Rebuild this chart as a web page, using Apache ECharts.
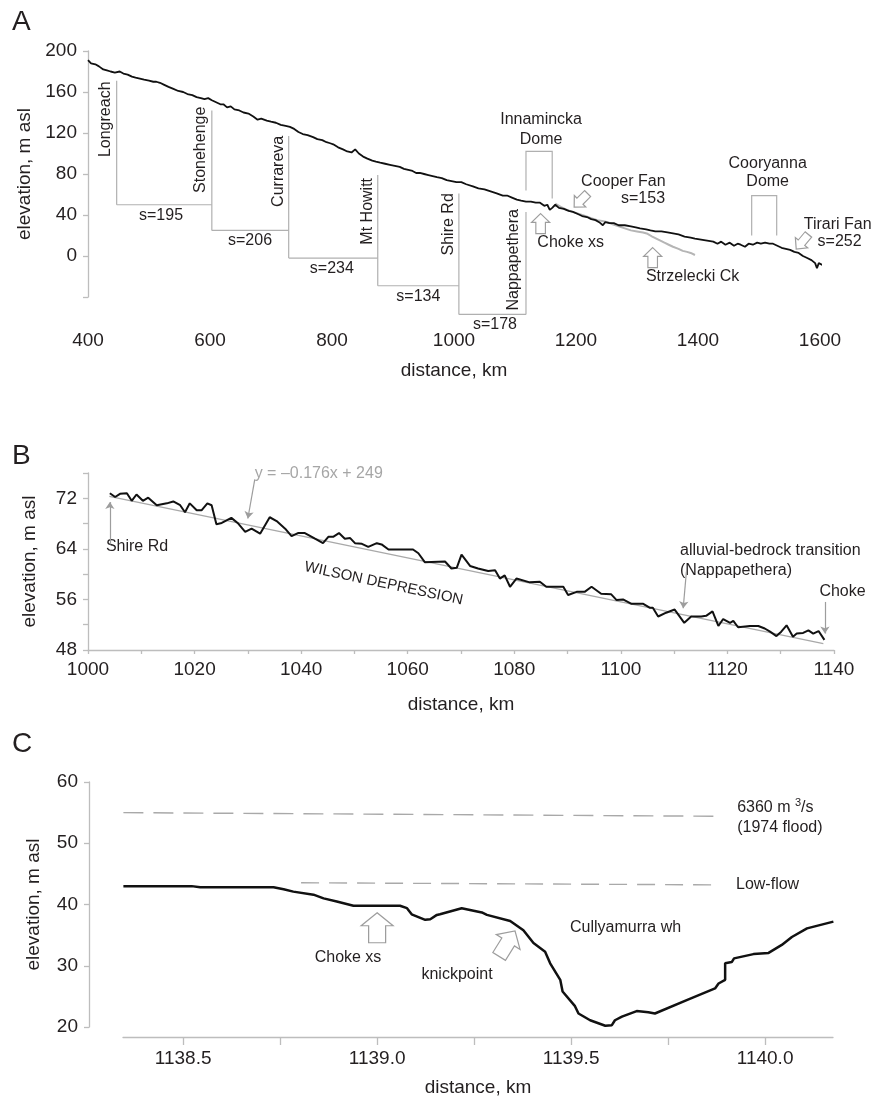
<!DOCTYPE html>
<html>
<head>
<meta charset="utf-8">
<title>Cooper Creek long profile</title>
<script src="https://cdn.jsdelivr.net/npm/echarts@6/dist/echarts.min.js"></script>
<style>
  html, body { margin: 0; padding: 0; background: #fff; }
  #chart { width: 874px; height: 1100px; }
</style>
</head>
<body>
<div id="chart"></div>
<script>
// ---------- panel A : long profile, Longreach to Tirari Fan ----------
const profileA = [
  [400,191],[405,188],[412,187],[418,185],[425,182],[431,181],[437,180],[444,179],[452,180],[458,178],
  [465,177],[472,175],[478,174],[485,173],[492,172],[500,171],[507,170],[512,170],[518,169],[525,167],
  [532,165],[540,163],[548,161],[556,160],[563,158],[571,157],[578,155],[585,154],[591,153],[597,154],
  [603,152],[610,150],[617,148],[622,148],[628,145],[634,146],[640,143],[648,142],[655,140],[663,139],
  [671,136],[678,133],[684,134],[693,132],[700,131],[708,130],[716,128],[724,127],[731,126],[738,124],
  [745,121],[752,119],[760,118],[769,116],[776,114],[784,113],[791,111],[797,110],[802,109],[810,106],
  [818,104],[825,102],[832,101],[838,104],[844,100],[851,97],[858,95],[866,93],[872,92],[879,91],
  [887,90],[895,89],[903,88],[911,87],[918,85],[925,84],[932,83],[938,81],[944,81],[951,80],
  [958,79],[965,78],[972,77],[980,76],[988,74],[996,73],[1004,72],[1012,72],[1020,70],[1031,68],
  [1040,66],[1050,65],[1060,63],[1070,61],[1080,59],[1087,59],[1095,57],[1103,55],[1110,54],[1118,53],
  [1126,53],[1134,52],[1141,52],[1148,49],[1153,50],[1157,45],[1161,47],[1166,50],[1172,47],[1180,46],
  [1188,44],[1195,43],[1203,41],[1210,39],[1218,38],[1225,36],[1232,35],[1238,33],[1244,30],[1248,33],
  [1255,32],[1262,32],[1270,30],[1280,30],[1290,29],[1298,28],[1305,27],[1315,26],[1322,25],[1330,24],
  [1340,24],[1350,23],[1359,22],[1368,21],[1378,19],[1388,18],[1395,17],[1405,16],[1415,15],[1425,14],
  [1432,12],[1438,14],[1445,11],[1452,13],[1459,10],[1465,12],[1470,11],[1477,9],[1483,12],[1490,11],
  [1497,13],[1503,12],[1510,13],[1517,12],[1523,12],[1530,10],[1537,8],[1544,7],[1551,6],[1558,4],
  [1565,3],[1572,0],[1579,-2],[1586,-4],[1592,-7],[1595,-12],[1598,-7],[1605,-9],[1612,-12],[1620,-14]
];
const strzeleckiCk = [
  [1166,51],[1175,48],[1185,45],[1195,43],[1205,41],[1215,39],[1225,37],[1235,35],[1245,34],[1252,33],
  [1260,31],[1270,29],[1280,27],[1290,25],[1300,24],[1310,23],[1316,22],[1325,19],[1335,16],[1345,13],
  [1352,11],[1359,9],[1368,7],[1375,5],[1382,4],[1388,3],[1395,1]
];
const stationNames = ['Longreach', 'Stonehenge', 'Currareva', 'Mt Howitt', 'Shire Rd', 'Nappapethera'];
const stationKm = [447, 603, 729, 875, 1008, 1118];
const stationTop = [171, 142, 117, 79, 61, 43];
const stepLevel = [50, 25, -2, -29, -57];
const stepLabels = ['s=195', 's=206', 's=234', 's=134', 's=178'];
const innaminckaDome = [[1118, 64], [1118, 102], [1161, 102], [1161, 56]];
const cooryannaDome = [[1488, 20], [1488, 59], [1529, 59], [1529, 20]];

// ---------- panel B : Shire Rd to Choke ----------
const profileB = [
  [1004.1,72.8],[1005.1,72.2],[1006,72.7],[1007.3,72.8],[1008.2,71.6],[1009.1,72.6],[1010.3,71.6],[1011.3,72.1],
  [1012.9,70.9],[1014.8,71.2],[1016,71.5],[1017.3,70.9],[1018.2,69.8],[1019.1,71.2],[1020.4,70.1],[1021.3,70.1],
  [1022.4,71.2],[1023.2,70.9],[1024.1,67.9],[1025.1,68.1],[1026.9,68.9],[1028.2,68.0],[1029.5,66.7],[1030.7,67.2],
  [1032.3,66.4],[1034.1,69.0],[1035.4,68.4],[1037,67.2],[1038.2,66.0],[1039.4,66.5],[1040.7,66.5],[1042.6,65.6],
  [1044.1,64.9],[1045.1,65.9],[1046,65.9],[1047.1,66.5],[1048.2,65.6],[1049.2,65.7],[1050.1,64.9],[1051.4,64.8],
  [1052.6,64.3],[1054.2,64.9],[1055.1,64.7],[1056.4,63.9],[1061,63.9],[1062,63.3],[1063.2,61.9],[1067,62.0],
  [1068.2,60.9],[1069.2,61.0],[1070.1,63.1],[1071.7,61.3],[1073.2,60.9],[1075.1,60.5],[1076.4,60.6],[1077.3,59.3],
  [1078.2,59.8],[1079.2,58.0],[1080.4,59.3],[1082.9,58.7],[1084.8,58.8],[1086,58.0],[1089.2,58.0],[1090.1,56.7],
  [1091.7,57.2],[1093.2,57.2],[1094.5,58.0],[1096.3,56.9],[1098.2,56.8],[1099.2,55.9],[1100.4,56.0],[1102,55.3],
  [1104.2,55.3],[1105.4,54.7],[1106,54.7],[1107,53.3],[1108.5,53.9],[1110.1,54.4],[1111.9,52.3],[1113.2,53.3],
  [1115.1,53.3],[1116,53.4],[1117.2,54.1],[1118.3,51.8],[1119.2,52.9],[1120.5,52.3],[1121.1,52.6],[1122,51.6],
  [1124.2,51.8],[1125.8,51.8],[1127,51.4],[1128,50.9],[1129.2,50.2],[1130.1,50.9],[1131.1,51.9],[1132.3,50.1],
  [1133,50.6],[1134.2,50.7],[1135.2,51.1],[1136.1,50.6],[1137.1,51.0],[1138.2,49.6]
];
// regression y = -0.176x + 249, end points
const trendB = [[1004, 72.3], [1138, 49.0]];

// ---------- panel C : Choke cross-section ----------
const profileC = [
  [1138.346,43.0],[1138.522,43.0],[1138.544,42.8],[1138.733,42.8],[1138.759,42.5],[1138.784,42.1],[1138.836,41.6],
  [1138.862,41.0],[1138.896,40.5],[1138.939,39.8],[1139.059,39.8],[1139.077,39.4],[1139.089,38.4],[1139.124,37.5],
  [1139.137,37.6],[1139.154,38.3],[1139.162,38.4],[1139.218,39.4],[1139.270,38.7],[1139.283,38.3],[1139.343,37.3],
  [1139.377,35.8],[1139.403,33.7],[1139.433,32.3],[1139.446,30.4],[1139.472,27.7],[1139.478,25.8],[1139.510,23.4],
  [1139.519,22.2],[1139.549,21.1],[1139.588,20.2],[1139.605,20.3],[1139.613,21.1],[1139.631,21.7],[1139.669,22.6],
  [1139.699,22.4],[1139.716,22.2],[1139.798,24.4],[1139.871,26.3],[1139.880,27.1],[1139.897,27.7],[1139.897,30.4],
  [1139.914,30.6],[1139.920,31.2],[1139.970,31.9],[1140.009,32.1],[1140.043,33.4],[1140.069,34.7],[1140.108,36.1],
  [1140.176,37.2]
];
const floodLevel = [[1138.346, 55.0], [1139.884, 54.4]];
const lowFlowLevel = [[1138.804, 43.55], [1139.884, 43.2]];
const ticksC = [1138.5, 1138.75, 1139.0, 1139.25, 1139.5, 1139.75, 1140.0];
const labelsC = [1138.5, 1139.0, 1139.5, 1140.0];

const FONT = '"Liberation Sans", Arial, Helvetica, sans-serif';
const INK = '#231f20';
const AXIS_GREY = '#bdbdbd';
const NOTE_GREY = '#b0b0b0';
const ARROW_GREY = '#9d9d9d';
const BLOCK_ARROW = 'path://M16,0 L32,13 L24.5,13 L24.5,30 L7.5,30 L7.5,13 L0,13 Z';

const chart = echarts.init(document.getElementById('chart'))

const axis = (gridIndex, opts) => {
  const base = {
    type: 'value',
    gridIndex,
    nameLocation: 'middle',
    nameTextStyle: { fontFamily: FONT, fontSize: 19, color: INK },
    splitLine: { show: false },
    axisLine: { show: true, lineStyle: { color: AXIS_GREY, width: 1.3 } },
    axisTick: { show: true, length: 5, lineStyle: { color: AXIS_GREY, width: 1.3 } },
    axisLabel: { fontFamily: FONT, fontSize: 19, color: INK, margin: 11 }
  }
  return {
    ...base,
    ...opts,
    axisLine: { ...base.axisLine, ...(opts.axisLine || {}) },
    axisTick: { ...base.axisTick, ...(opts.axisTick || {}) },
    axisLabel: { ...base.axisLabel, ...(opts.axisLabel || {}) }
  }
}

// bracket lines of panel A: one vertical per station, one horizontal per reach
const bracketLines = []
stationKm.forEach((km, i) => {
  const below = [stepLevel[i - 1], stepLevel[i]].filter(v => v !== undefined)
  bracketLines.push({ coords: [[km, stationTop[i]], [km, Math.min(...below)]] })
})
stepLevel.forEach((lv, i) => {
  bracketLines.push({ coords: [[stationKm[i], lv], [stationKm[i + 1], lv]] })
})
bracketLines.push({ coords: innaminckaDome })
bracketLines.push({ coords: cooryannaDome })

const hollowArrow = (coord, size, rotate) => ({
  coord,
  symbol: BLOCK_ARROW,
  symbolSize: size,
  symbolRotate: rotate,
  itemStyle: { color: 'rgba(0,0,0,0)', borderColor: ARROW_GREY, borderWidth: 1.2 }
})

const thinArrow = (from, to) => [{ coord: from }, { coord: to }]

const option = {
  animation: false,
  backgroundColor: '#fff',
  grid: [
    { left: 88, right: 54, top: 51, height: 246 },
    { left: 88, right: 40, top: 473, height: 177 },
    { left: 123, right: 41, top: 782, height: 245 }
  ],
  xAxis: [
    axis(0, {
      min: 400, max: 1600, interval: 200,
      name: 'distance, km', nameGap: 64,
      axisLine: { show: false }, axisTick: { show: false },
      axisLabel: { margin: 34, formatter: v => String(v) }
    }),
    axis(1, {
      min: 1000, max: 1140, interval: 10,
      name: 'distance, km', nameGap: 45,
      axisTick: { length: 4 },
      axisLabel: { margin: 10, interval: 0, formatter: v => (v % 20 === 0 ? String(v) : '') }
    }),
    axis(2, {
      min: 1138.345, max: 1140.175, offset: 10,
      name: 'distance, km', nameGap: 41,
      axisTick: { length: 8, customValues: ticksC },
      axisLabel: { margin: 12, customValues: labelsC, formatter: v => v.toFixed(1) }
    })
  ],
  yAxis: [
    axis(0, {
      min: -40, max: 200, interval: 40,
      name: 'elevation, m asl', nameGap: 51,
      axisLabel: { formatter: v => (v < 0 ? '' : String(v)) }
    }),
    axis(1, {
      min: 48, max: 76, interval: 4,
      name: 'elevation, m asl', nameGap: 49,
      axisLabel: { formatter: v => ((v - 48) % 8 === 0 ? String(v) : '') }
    }),
    axis(2, {
      min: 20, max: 60, interval: 10, offset: 34,
      name: 'elevation, m asl', nameGap: 46
    })
  ],
  series: [
    {
      type: 'lines',
      coordinateSystem: 'cartesian2d',
      xAxisIndex: 0, yAxisIndex: 0,
      polyline: true,
      clip: false,
      silent: true,
      lineStyle: { color: NOTE_GREY, width: 1.2, opacity: 1 },
      data: bracketLines
    },
    {
      type: 'line',
      xAxisIndex: 0, yAxisIndex: 0,
      data: strzeleckiCk,
      showSymbol: false,
      lineStyle: { color: '#b5b5b5', width: 2 }
    },
    {
      type: 'line',
      xAxisIndex: 0, yAxisIndex: 0,
      data: profileA,
      showSymbol: false,
      clip: false,
      lineStyle: { color: '#111', width: 1.8 },
      markPoint: {
        silent: true,
        label: { show: false },
        data: [
          hollowArrow([1208, 54.3], [16, 19], 135),
          hollowArrow([1142, 31.6], [18, 20], 0),
          hollowArrow([1325.7, -1.6], [18, 20], 0),
          hollowArrow([1571, 13.9], [16, 19], 140)
        ]
      }
    },
    {
      type: 'line',
      xAxisIndex: 1, yAxisIndex: 1,
      data: trendB,
      showSymbol: false,
      lineStyle: { color: '#a9a9a9', width: 1.4 }
    },
    {
      type: 'line',
      xAxisIndex: 1, yAxisIndex: 1,
      data: profileB,
      showSymbol: false,
      lineStyle: { color: '#111', width: 2 },
      markLine: {
        silent: true,
        symbol: ['none', 'arrow'],
        symbolSize: 7,
        label: { show: false },
        lineStyle: { color: ARROW_GREY, width: 1.2, type: 'solid' },
        data: [
          thinArrow([1031.3, 75.0], [1030, 68.8]),
          thinArrow([1004.1, 64.7], [1004.1, 71.4]),
          thinArrow([1112.3, 60.4], [1111.7, 54.6]),
          thinArrow([1138.3, 55.6], [1138.3, 50.6])
        ]
      }
    },
    {
      type: 'line',
      xAxisIndex: 2, yAxisIndex: 2,
      data: floodLevel,
      showSymbol: false,
      lineStyle: { color: '#a9a9a9', width: 1.4, type: [20, 10] }
    },
    {
      type: 'line',
      xAxisIndex: 2, yAxisIndex: 2,
      data: lowFlowLevel,
      showSymbol: false,
      lineStyle: { color: '#a9a9a9', width: 1.4, type: [18, 10] }
    },
    {
      type: 'line',
      xAxisIndex: 2, yAxisIndex: 2,
      data: profileC,
      showSymbol: false,
      lineStyle: { color: '#111', width: 2.5 },
      markPoint: {
        silent: true,
        label: { show: false },
        data: [
          hollowArrow([1139.0, 36.2], [32, 30], 0),
          hollowArrow([1139.335, 33.6], [28, 30], -32)
        ]
      }
    }
  ]
}

chart.setOption(option)

// text notes, placed in data units of each panel
const notes = [
  ...stationNames.map((text, i) => ({
    grid: 0, text, rotate: Math.PI / 2,
    x: [428.7, 584.4, 712.3, 859, 991.8, 1098.4][i],
    y: [133.4, 103.6, 82.6, 43.6, 30.9, -3.7][i]
  })),
  ...stepLabels.map((text, i) => ({
    grid: 0, text,
    x: [519.7, 665.6, 799.8, 941.5, 1067.2][i],
    y: [39, 15.3, -12.3, -39.3, -67][i]
  })),
  { grid: 0, text: 'Innamincka', x: 1142.8, y: 133.1 },
  { grid: 0, text: 'Dome', x: 1142.8, y: 113.8 },
  { grid: 0, text: 'Cooper Fan', x: 1277.6, y: 72.2 },
  { grid: 0, text: 's=153', x: 1346, y: 56, align: 'right' },
  { grid: 0, text: 'Choke xs', x: 1191.3, y: 12.7 },
  { grid: 0, text: 'Strzelecki Ck', x: 1391.1, y: -20.5 },
  { grid: 0, text: 'Cooryanna', x: 1514.2, y: 90.1 },
  { grid: 0, text: 'Dome', x: 1514.2, y: 72.2 },
  { grid: 0, text: 'Tirari Fan', x: 1684.7, y: 30.6, align: 'right' },
  { grid: 0, text: 's=252', x: 1668.3, y: 13.7, align: 'right' },

  { grid: 1, text: 'y = \u20130.176x + 249', x: 1043.3, y: 75.9, color: '#a6a6a6' },
  { grid: 1, text: 'Shire Rd', x: 1009.2, y: 64.3 },
  { grid: 1, text: 'WILSON DEPRESSION', x: 1055.5, y: 58.5, rotate: -0.21, size: 15 },
  { grid: 1, text: 'alluvial-bedrock transition', x: 1111.1, y: 63.8, align: 'left' },
  { grid: 1, text: '(Nappapethera)', x: 1111.1, y: 60.6, align: 'left' },
  { grid: 1, text: 'Choke', x: 1141.6, y: 57.3 },

  {
    grid: 2, text: '{n|6360 m }{s|3}{n|/s}', x: 1139.928, y: 55.9, align: 'left',
    rich: {
      n: { fontFamily: FONT, fontSize: 16, fill: INK, color: INK, lineHeight: 20 },
      s: { fontFamily: FONT, fontSize: 11, fill: INK, color: INK, lineHeight: 12, verticalAlign: 'top' }
    }
  },
  { grid: 2, text: '(1974 flood)', x: 1139.928, y: 52.5, align: 'left' },
  { grid: 2, text: 'Low-flow', x: 1139.925, y: 43.3, align: 'left' },
  { grid: 2, text: 'Cullyamurra wh', x: 1139.497, y: 36.3, align: 'left' },
  { grid: 2, text: 'Choke xs', x: 1138.925, y: 31.3 },
  { grid: 2, text: 'knickpoint', x: 1139.206, y: 28.5 }
]

const noteElement = (n) => {
  const [px, py] = chart.convertToPixel({ gridIndex: n.grid }, [n.x, n.y])
  const align = n.align || 'center'
  return {
    type: 'text',
    x: px,
    y: py,
    rotation: n.rotate || 0,
    silent: true,
    style: {
      text: n.text,
      fill: n.color || INK,
      font: `${n.size || 16}px ${FONT}`,
      align,
      verticalAlign: 'middle',
      textAlign: align,
      textVerticalAlign: 'middle',
      rich: n.rich
    }
  }
}

const panelLetter = (text, top) => ({
  type: 'text',
  left: 12,
  top,
  silent: true,
  style: { text, fill: INK, font: `28px ${FONT}` }
})

chart.setOption({
  graphic: [
    panelLetter('A', 8),
    panelLetter('B', 442),
    panelLetter('C', 730),
    ...notes.map(noteElement)
  ]
})
</script>
</body>
</html>
